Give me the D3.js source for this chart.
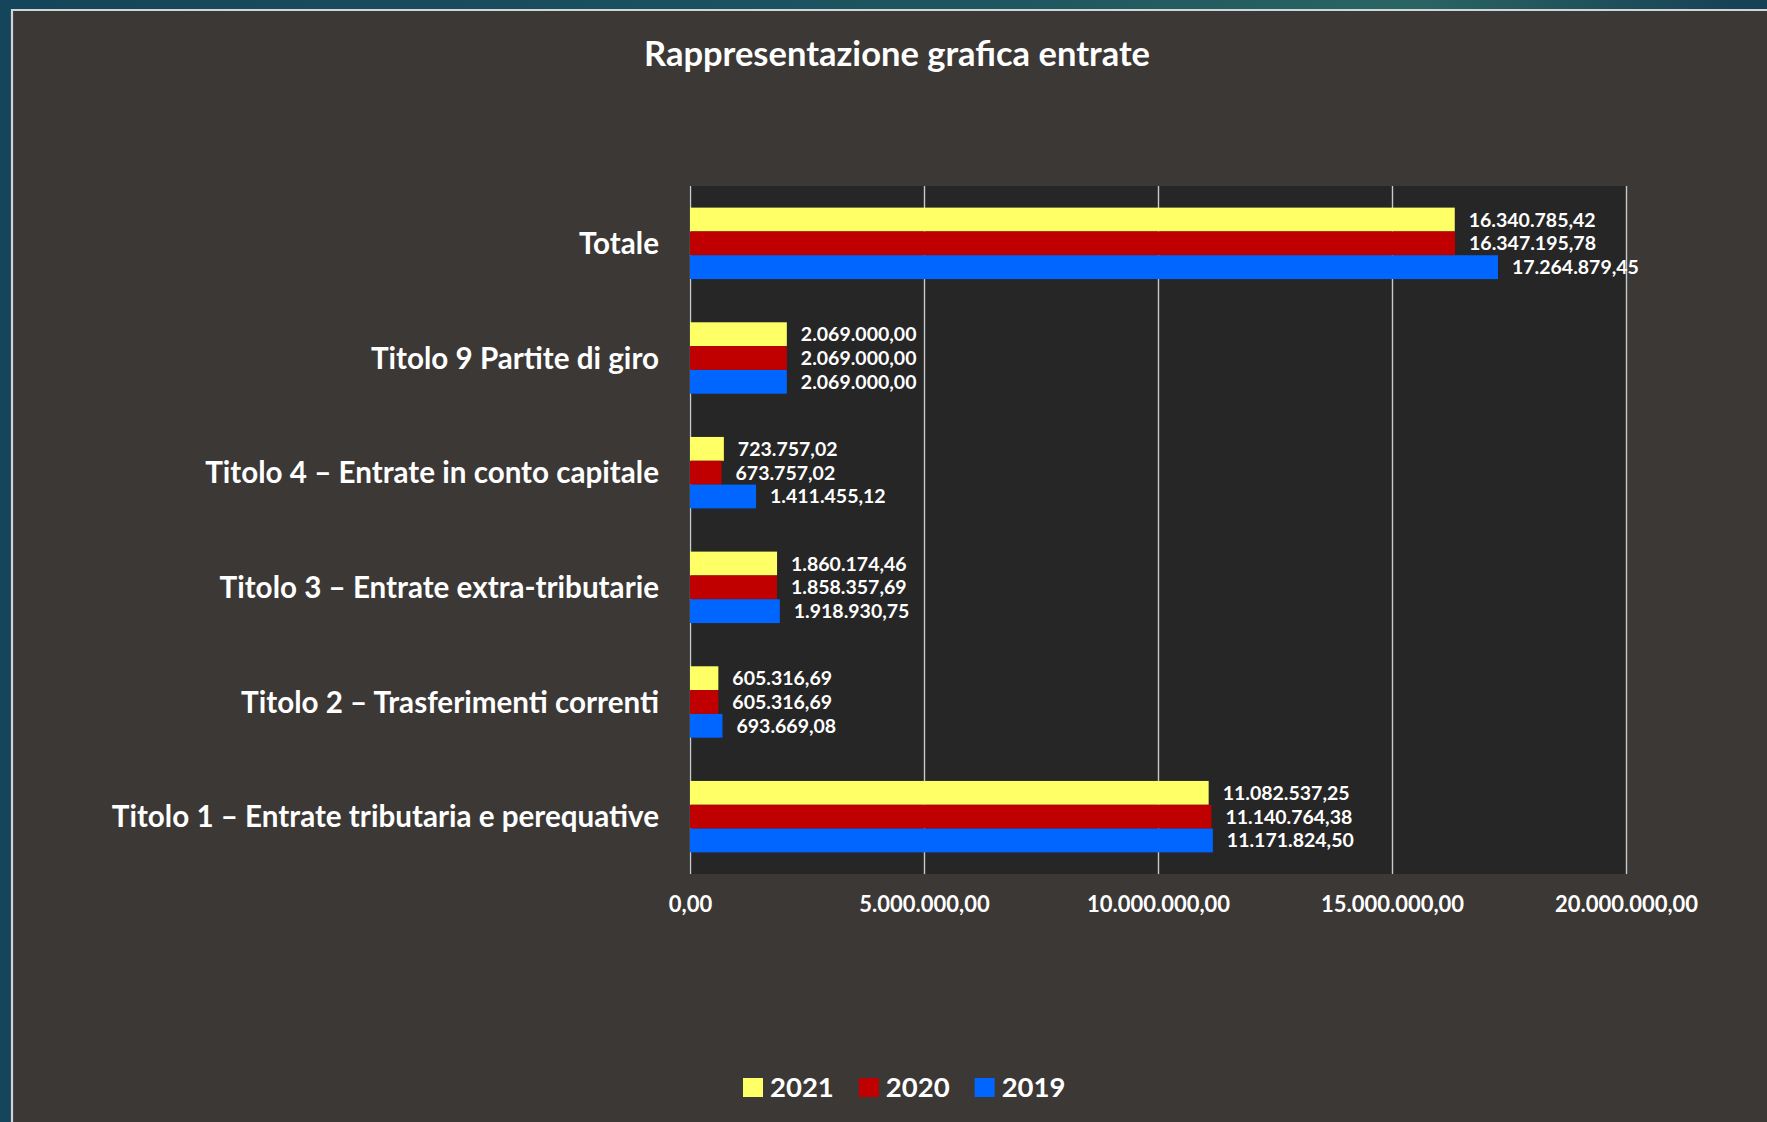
<!DOCTYPE html>
<html lang="it">
<head>
<meta charset="utf-8">
<title>Rappresentazione grafica entrate</title>
<script src="https://cdn.jsdelivr.net/npm/d3@7"></script>
<style>
  html, body { margin: 0; padding: 0; background: #174a5b; overflow: hidden; }
  svg { display: block; }
  text { font-family: Lato, "Open Sans", "Liberation Sans", sans-serif; fill: #ffffff; }
</style>
</head>
<body>
<svg id="chart" width="1767" height="1122"></svg>
<script>
// Categories, listed top to bottom as drawn
const categories = [
  "Totale",
  "Titolo 9 Partite di giro",
  "Titolo 4 \u2013 Entrate in conto capitale",
  "Titolo 3 \u2013 Entrate extra-tributarie",
  "Titolo 2 \u2013 Trasferimenti correnti",
  "Titolo 1 \u2013 Entrate tributaria e perequative"
];

// Series (years), in the order bars are stacked inside each group
const years = ["2021", "2020", "2019"];

const values2021 = [16340785.42, 2069000.00, 723757.02, 1860174.46, 605316.69, 11082537.25];
const values2020 = [16347195.78, 2069000.00, 673757.02, 1858357.69, 605316.69, 11140764.38];
const values2019 = [17264879.45, 2069000.00, 1411455.12, 1918930.75, 693669.08, 11171824.50];

const xTicks = [0, 5000000, 10000000, 15000000, 20000000];

const seriesColors = { "2021": "#ffff66", "2020": "#c00000", "2019": "#0066ff" };

const seriesValues = { "2021": values2021, "2020": values2020, "2019": values2019 };

const rows = categories.map((c, i) => ({
  category: c,
  bars: years.map(y => ({ year: y, value: seriesValues[y][i] }))
}));

const it = d3.formatLocale({ decimal: ",", thousands: ".", grouping: [3], currency: ["\u20ac", ""] });
const fmt = it.format(",.2f");

const W = 1767, H = 1122;
const svg = d3.select("#chart");

// Backdrop: teal frame with a slightly lighter sheen across the top
const defs = svg.append("defs");
const grad = defs.append("linearGradient").attr("id", "frameGrad").attr("x1", 0).attr("x2", 1).attr("y1", 0).attr("y2", 0);
grad.append("stop").attr("offset", "0%").attr("stop-color", "#14455a");
grad.append("stop").attr("offset", "55%").attr("stop-color", "#1e5560");
grad.append("stop").attr("offset", "80%").attr("stop-color", "#2a6462");
grad.append("stop").attr("offset", "100%").attr("stop-color", "#153f55");
svg.append("rect").attr("width", W).attr("height", H).attr("fill", "url(#frameGrad)");

// Chart panel with a light edge
svg.append("rect").attr("x", 11).attr("y", 9).attr("width", W).attr("height", H)
  .attr("fill", "#3c3836");
svg.append("path").attr("d", `M12,${H} V10 H${W}`)
  .attr("fill", "none").attr("stroke", "#cfd6d8").attr("stroke-width", 2.2);

const plot = { left: 690, right: 1626, top: 186, bottom: 874 };

const x = d3.scaleLinear().domain([0, 20000000]).range([plot.left, plot.right]);
const y0 = d3.scaleBand().domain(categories).range([plot.top, plot.bottom])
  .paddingInner(0.377).paddingOuter(0.377 / 2);
const y1 = d3.scaleBand().domain(years).range([0, y0.bandwidth()]);

// Plot area
svg.append("rect")
  .attr("x", plot.left - 1).attr("y", plot.top)
  .attr("width", plot.right - plot.left + 1).attr("height", plot.bottom - plot.top)
  .attr("fill", "#272626");

// Vertical gridlines and tick labels from the axis generator
const xAxis = d3.axisBottom(x).tickValues(xTicks).tickSize(-(plot.bottom - plot.top)).tickFormat(fmt);
const gx = svg.append("g").attr("transform", `translate(0,${plot.bottom})`).call(xAxis);
gx.select(".domain").remove();
gx.selectAll(".tick line").attr("stroke", "#c9c9c9").attr("stroke-width", 1.4);
gx.selectAll(".tick text")
  .attr("y", 38).attr("dy", 0)
  .style("font-family", "Lato, 'Open Sans', sans-serif")
  .style("font-size", "22px").style("font-weight", "700")
  .attr("fill", "#ffffff");

// Bars
const groups = svg.append("g").selectAll("g.cat").data(rows).join("g")
  .attr("class", "cat")
  .attr("transform", d => `translate(0,${y0(d.category)})`);

groups.selectAll("rect").data(d => d.bars).join("rect")
  .attr("x", x(0))
  .attr("y", d => y1(d.year))
  .attr("width", d => x(d.value) - x(0))
  .attr("height", y1.bandwidth())
  .attr("fill", d => seriesColors[d.year]);

// Value labels at the end of each bar
groups.selectAll("text.val").data(d => d.bars).join("text")
  .attr("class", "val")
  .attr("x", d => x(d.value) + 14)
  .attr("y", d => y1(d.year) + y1.bandwidth() / 2)
  .attr("dy", "0.36em")
  .style("font-size", "19.5px").style("font-weight", "700")
  .text(d => fmt(d.value));

// Category labels
svg.append("g").selectAll("text").data(categories).join("text")
  .attr("x", 659)
  .attr("y", d => y0(d) + y0.bandwidth() / 2)
  .attr("dy", "0.36em")
  .attr("text-anchor", "end")
  .style("font-size", "29.6px").style("font-weight", "700")
  .text(d => d);

// Title
svg.append("text")
  .attr("x", 897).attr("y", 66)
  .attr("text-anchor", "middle")
  .style("font-size", "34.5px").style("font-weight", "700")
  .text("Rappresentazione grafica entrate");

// Legend
const legend = svg.append("g").attr("transform", "translate(743,1078)");
let lx = 0;
years.forEach(yr => {
  const item = legend.append("g").attr("transform", `translate(${lx},0)`);
  item.append("rect").attr("width", 20).attr("height", 19).attr("fill", seriesColors[yr]);
  const t = item.append("text").attr("x", 27).attr("y", 19)
    .style("font-size", "27.5px").style("font-weight", "700").text(yr);
  lx += 27 + t.node().getComputedTextLength() + 25;
});
</script>
</body>
</html>
